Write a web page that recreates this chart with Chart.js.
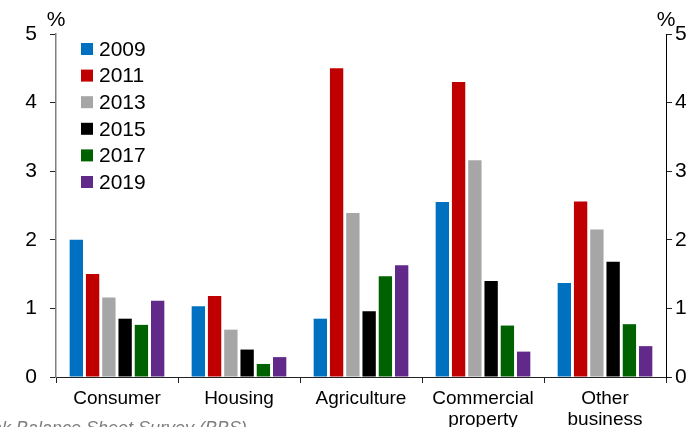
<!DOCTYPE html>
<html>
<head>
<meta charset="utf-8">
<script src="https://cdn.jsdelivr.net/npm/chart.js@4"></script>
<style>
  html, body { margin: 0; padding: 0; background: #fff; }
  #wrap { width: 690px; height: 427px; }
</style>
</head>
<body>
<div id="wrap"><canvas id="npl" width="690" height="427"></canvas></div>
<script>
const categories = ['Consumer', 'Housing', 'Agriculture', ['Commercial', 'property'], ['Other', 'business']];
const years = ['2009', '2011', '2013', '2015', '2017', '2019'];
const colours = ['#0070c0', '#c00000', '#a6a6a6', '#000000', '#006100', '#612a8a'];

// non-performing loans by sector, %
const v2009 = [2.00, 1.03, 0.85, 2.55, 1.37];
const v2011 = [1.50, 1.18, 4.50, 4.30, 2.56];
const v2013 = [1.16, 0.69, 2.39, 3.16, 2.15];
const v2015 = [0.85, 0.40, 0.96, 1.40, 1.68];
const v2017 = [0.76, 0.19, 1.47, 0.75, 0.77];
const v2019 = [1.11, 0.29, 1.63, 0.37, 0.45];
const series = [v2009, v2011, v2013, v2015, v2017, v2019];

const yTicks = [0, 1, 2, 3, 4, 5];
const source = 'Source: RBNZ Bank Balance Sheet Survey (BBS)';

const FONT = "'Liberation Sans', Arial, sans-serif";

// legend, % units and source note
const extras = {
    id: 'extras',
    afterDraw(chart) {
        const c = chart.ctx;
        c.save();
        c.textBaseline = 'middle';
        c.font = '21px ' + FONT;
        chart.data.datasets.forEach((ds, i) => {
            const y = 49 + i * 26.6;
            c.fillStyle = ds.backgroundColor;
            c.fillRect(81, y - 6, 12, 12);
            c.fillStyle = '#000';
            c.textAlign = 'left';
            c.fillText(ds.label, 99, y + 1);
        });
        c.textAlign = 'center';
        c.font = '21px ' + FONT;
        c.fillText('%', chart.chartArea.left, 20);
        c.fillText('%', chart.chartArea.right, 20);
        c.font = 'italic 18px ' + FONT;
        c.fillStyle = '#7f7f7f';
        c.textAlign = 'right';
        c.textBaseline = 'top';
        c.fillText(source, 247, 420);
        c.restore();
    }
};

new Chart(document.getElementById('npl').getContext('2d'), {
    type: 'bar',
    data: {
        labels: categories,
        datasets: years.map((yr, i) => ({
            label: yr,
            data: series[i],
            backgroundColor: colours[i],
            yAxisID: 'y'
        }))
    },
    options: {
        responsive: false,
        animation: false,
        layout: { padding: { top: 34, left: 0, right: 0, bottom: 0 } },
        datasets: { bar: { categoryPercentage: 0.8, barPercentage: 0.82 } },
        plugins: { legend: { display: false }, tooltip: { enabled: false } },
        scales: {
            x: {
                afterFit: s => { s.height = 50; },
                border: { color: '#222', width: 1 },
                grid: { drawOnChartArea: false, offset: true, tickLength: 6, color: '#222' },
                ticks: { color: '#000', font: { family: FONT, size: 19, lineHeight: 1.1 }, padding: 5, maxRotation: 0, autoSkip: false }
            },
            y: {
                position: 'left',
                min: 0, max: 5,
                afterFit: s => { s.width = 56; },
                afterBuildTicks: s => { s.ticks = yTicks.map(v => ({ value: v })); },
                border: { color: '#808080', width: 1.5 },
                grid: { drawOnChartArea: false, tickLength: 6, color: '#222' },
                ticks: { color: '#000', font: { family: FONT, size: 21 }, padding: 13 }
            },
            y2: {
                position: 'right',
                min: 0, max: 5,
                afterFit: s => { s.width = 24; },
                afterBuildTicks: s => { s.ticks = yTicks.map(v => ({ value: v })); },
                border: { color: '#000', width: 1 },
                grid: { drawOnChartArea: false, tickLength: 6, color: '#222' },
                ticks: { color: '#000', font: { family: FONT, size: 21 }, padding: 3 }
            }
        }
    },
    plugins: [extras]
});
</script>
</body>
</html>
